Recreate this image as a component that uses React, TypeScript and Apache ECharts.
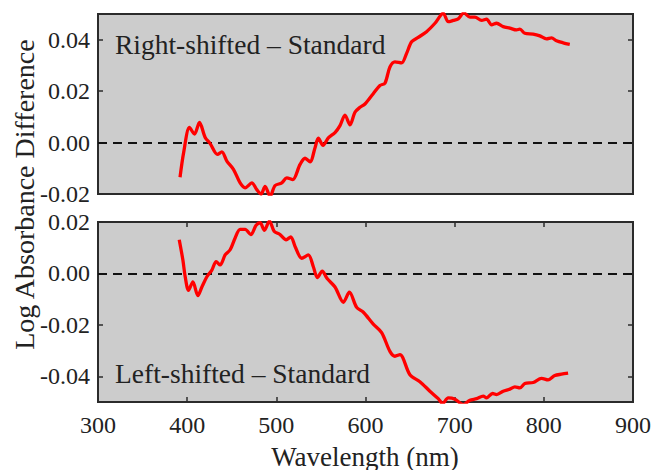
import React, { useEffect, useRef } from "react";
import * as echarts from "echarts";

// Wavelength (nm) and log absorbance difference, Right-shifted - Standard
const rightWl = [392, 396, 402.6, 408.2, 413.8, 420.2, 425.8, 434, 438.9, 444.5, 451.9, 459.4, 465, 472.5, 478.1, 482.9, 487.4, 493, 498.6, 506.1, 511.7, 518.4, 526.6, 532.2, 537.8, 543.4, 547.1, 552.4, 558.3, 565.8, 571.4, 577, 582.6, 588.2, 593.8, 599.4, 608.7, 616.2, 621.8, 627.4, 633, 640.5, 646.1, 651.7, 659.1, 668.5, 677.9, 687.2, 692.8, 698.4, 704, 710.3, 717.1, 722.7, 730.2, 735.8, 741.4, 747, 754.4, 761.9, 769.4, 773.1, 778.7, 788, 795.5, 803, 808.6, 814.2, 821.6, 829.1];
const rightVal = [-0.0135, -0.004, 0.0059, 0.0033, 0.0078, 0.002, -0.0004, -0.0046, -0.0036, -0.0072, -0.0104, -0.0157, -0.0176, -0.0157, -0.0183, -0.02, -0.017, -0.0209, -0.0167, -0.0157, -0.0137, -0.0144, -0.0085, -0.0061, -0.0075, -0.002, 0.0017, -0.0011, 0.0018, 0.0039, 0.0066, 0.0107, 0.0069, 0.0118, 0.0137, 0.015, 0.019, 0.0222, 0.0231, 0.0294, 0.0314, 0.031, 0.0347, 0.0392, 0.0409, 0.0431, 0.0464, 0.0503, 0.047, 0.0475, 0.0481, 0.0504, 0.0488, 0.0488, 0.0475, 0.048, 0.0458, 0.0464, 0.0451, 0.0445, 0.0438, 0.0441, 0.0425, 0.0422, 0.0415, 0.0403, 0.0407, 0.0396, 0.0388, 0.0382];

// Left-shifted - Standard
const leftWl = [391.1, 395.2, 397.8, 401.5, 406.4, 412, 416.5, 422.1, 427.7, 432.5, 437, 442.6, 448.2, 453.8, 459.4, 465, 471.3, 477.3, 481.8, 486.6, 492.3, 497.5, 504.2, 511, 516.2, 521, 528.5, 535.9, 541.5, 546, 551.5, 557, 565.8, 575.2, 581.9, 590.1, 597.6, 608.7, 618.1, 627.4, 633, 638.6, 649.8, 661, 672.2, 681.6, 686.5, 692.8, 700.3, 709.6, 717.1, 724.6, 732, 735.8, 742.5, 747, 754.4, 761.9, 767.5, 773.1, 778.7, 788, 797.4, 804.8, 812.3, 819.8, 827.2];
const leftVal = [0.0131, 0.0052, -0.0013, -0.0066, -0.0033, -0.0086, -0.0053, -0.0013, 0.0013, 0.0046, 0.0033, 0.0072, 0.0092, 0.0138, 0.0171, 0.0171, 0.0151, 0.0187, 0.0197, 0.0168, 0.0204, 0.0164, 0.0151, 0.0131, 0.0142, 0.0105, 0.0059, 0.0072, 0.0026, -0.0016, 0.0009, -0.002, -0.0053, -0.0112, -0.0073, -0.0132, -0.0151, -0.0197, -0.023, -0.0303, -0.0322, -0.0316, -0.0394, -0.0421, -0.0458, -0.0487, -0.0506, -0.0484, -0.0489, -0.051, -0.0493, -0.0487, -0.0477, -0.0484, -0.0467, -0.0471, -0.0458, -0.045, -0.0441, -0.0445, -0.0428, -0.0424, -0.0408, -0.0414, -0.0397, -0.0392, -0.0388];

const xTicks = [300, 400, 500, 600, 700, 800, 900];
const yTicksTop = [-0.02, 0, 0.02, 0.04];
const yTicksBottom = [-0.04, -0.02, 0, 0.02];
const topRange = [-0.02, 0.05];
const bottomRange = [-0.05, 0.02];
const xRange = [300, 900];

const xTitle = "Wavelength (nm)";
const yTitle = "Log Absorbance Difference";
const topLabel = "Right-shifted \u2013 Standard";
const bottomLabel = "Left-shifted \u2013 Standard";

const FONT = "'Liberation Serif', 'Times New Roman', serif";
const TEXT = "#222";
const FRAME = "#2b2b2b";

export default function App() {
  const ref = useRef<HTMLDivElement>(null);
  useEffect(() => {
    if (!ref.current) return;
    document.body.style.margin = "0";
    const chart = echarts.init(ref.current, null, { renderer: "svg" });
    const grids = [
      { left: 98, right: 21, top: 14, height: 180 },
      { left: 98, right: 21, top: 222, height: 180 },
    ].map((g) => ({
      ...g,
      show: true,
      backgroundColor: "#cccccc",
      borderColor: FRAME,
      borderWidth: 2,
    }));

    const tick = { show: true, inside: true, length: 5, lineStyle: { color: FRAME, width: 1.5 } };
    const fmt = (v: number) => v.toFixed(2);
    const yLabel = { show: true, fontFamily: FONT, fontSize: 24, color: TEXT, margin: 8, formatter: fmt };
    const noLine = { show: false, onZero: false };

    const mkY = (grid: number, range: number[], ticks: number[], pos: string, labels: boolean) => ({
      type: "value",
      gridIndex: grid,
      position: pos,
      min: range[0],
      max: range[1],
      axisLine: noLine,
      splitLine: { show: false },
      axisTick: { ...tick, customValues: ticks },
      axisLabel: labels ? { ...yLabel, customValues: ticks } : { show: false },
    });

    const zeroLine = {
      silent: true,
      symbol: ["none", "none"],
      label: { show: false },
      lineStyle: { type: [9, 6], color: "#111", width: 2 },
      data: [{ yAxis: 0 }],
    };

    const lineStyle = { color: "#ff0000", width: 3.3 };

    chart.setOption({
      animation: false,
      grid: grids,
      xAxis: [
        {
          type: "value", gridIndex: 0, min: xRange[0], max: xRange[1],
          axisLine: noLine, splitLine: { show: false },
          axisTick: { show: false }, axisLabel: { show: false },
        },
        {
          type: "value", gridIndex: 1, position: "bottom", min: xRange[0], max: xRange[1],
          axisLine: noLine, splitLine: { show: false },
          axisTick: { ...tick, customValues: xTicks },
          axisLabel: { show: true, fontFamily: FONT, fontSize: 24, color: TEXT, margin: 11, customValues: xTicks },
        },
        {
          type: "value", gridIndex: 1, position: "top", min: xRange[0], max: xRange[1],
          axisLine: noLine, splitLine: { show: false },
          axisTick: { ...tick, customValues: xTicks },
          axisLabel: { show: false },
        },
      ],
      yAxis: [
        mkY(0, topRange, yTicksTop, "left", true),
        mkY(0, topRange, yTicksTop, "right", false),
        mkY(1, bottomRange, yTicksBottom, "left", true),
        mkY(1, bottomRange, yTicksBottom, "right", false),
      ],
      series: [
        {
          type: "line",
          xAxisIndex: 0,
          yAxisIndex: 0,
          data: rightWl.map((w, i) => [w, rightVal[i]]),
          showSymbol: false,
          smooth: 0.3,
          lineStyle,
          z: 10,
          markLine: zeroLine,
        },
        {
          type: "line",
          xAxisIndex: 1,
          yAxisIndex: 2,
          data: leftWl.map((w, i) => [w, leftVal[i]]),
          showSymbol: false,
          smooth: 0.3,
          lineStyle,
          z: 10,
          markLine: zeroLine,
        },
      ],
      graphic: [
        {
          type: "text", x: 115, y: 44, z: 20,
          style: { text: topLabel, fontFamily: FONT, fontSize: 27.5, fill: TEXT, align: "left", verticalAlign: "middle" },
        },
        {
          type: "text", x: 115, y: 373, z: 20,
          style: { text: bottomLabel, fontFamily: FONT, fontSize: 27.5, fill: TEXT, align: "left", verticalAlign: "middle" },
        },
        {
          type: "text", x: 365, y: 457,
          style: { text: xTitle, fontFamily: FONT, fontSize: 27, fill: TEXT, align: "center", verticalAlign: "middle" },
        },
        {
          type: "text", x: 24, y: 194.5, rotation: Math.PI / 2,
          style: { text: yTitle, fontFamily: FONT, fontSize: 28, fill: TEXT, align: "center", verticalAlign: "middle" },
        },
      ],
    });
    return () => chart.dispose();
  }, []);
  return <div ref={ref} style={{ width: 654, height: 470 }} />;
}
